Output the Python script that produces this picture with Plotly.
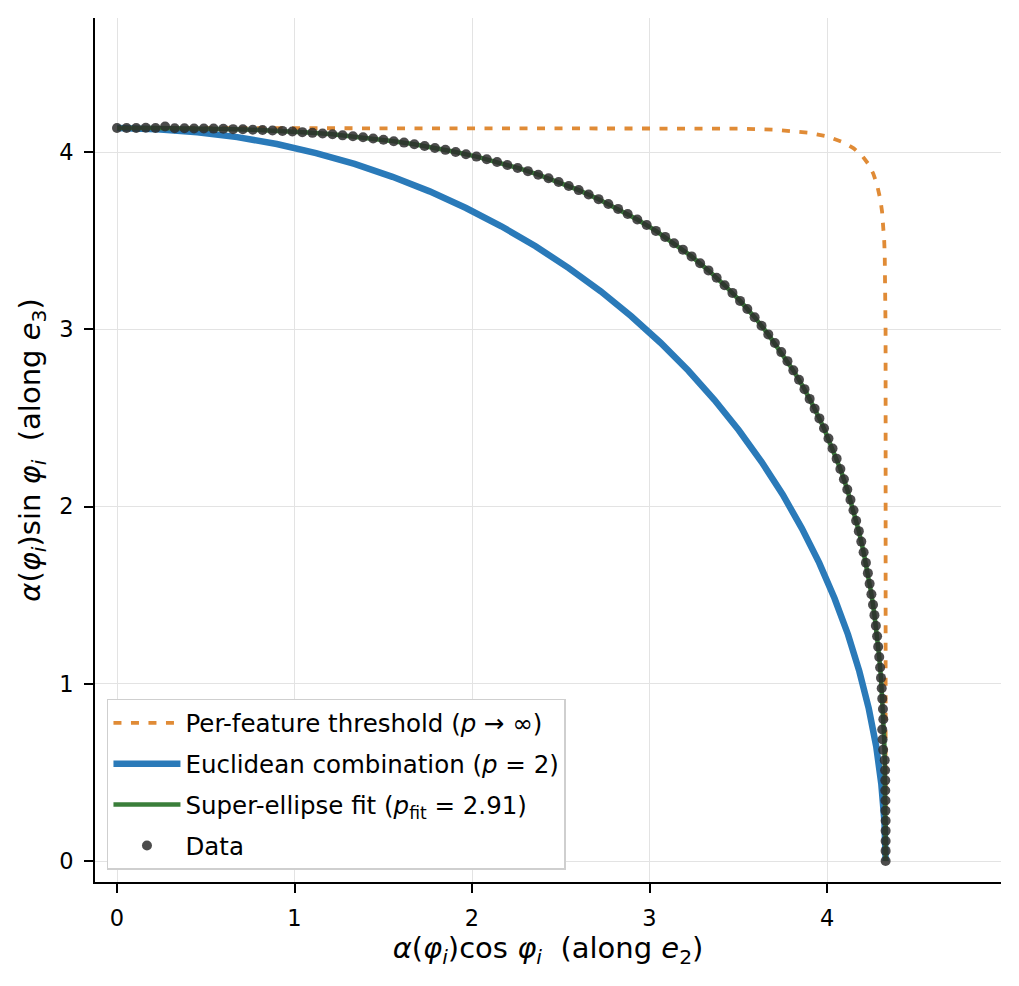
import plotly.graph_objects as go

# measured points, alpha(phi_i) projected on e2 / e3
data_x = [4.330, 4.330, 4.330, 4.330, 4.330, 4.329, 4.329, 4.328, 4.328, 4.327,
          4.325, 4.316, 4.313, 4.311, 4.317, 4.315, 4.311, 4.308, 4.304, 4.299,
          4.294, 4.288, 4.282, 4.275, 4.267, 4.259, 4.250, 4.240, 4.230, 4.219,
          4.206, 4.193, 4.179, 4.164, 4.149, 4.132, 4.114, 4.095, 4.075, 4.054,
          4.031, 4.008, 3.983, 3.957, 3.930, 3.902, 3.873, 3.842, 3.810, 3.777,
          3.742, 3.706, 3.669, 3.631, 3.592, 3.551, 3.510, 3.467, 3.423, 3.378,
          3.332, 3.285, 3.237, 3.188, 3.138, 3.088, 3.036, 2.984, 2.931, 2.877,
          2.823, 2.768, 2.713, 2.657, 2.601, 2.545, 2.488, 2.431, 2.373, 2.315,
          2.257, 2.199, 2.141, 2.083, 2.025, 1.966, 1.908, 1.850, 1.791, 1.733,
          1.675, 1.617, 1.559, 1.501, 1.443, 1.386, 1.329, 1.271, 1.214, 1.158,
          1.101, 1.044, 0.988, 0.932, 0.876, 0.820, 0.765, 0.709, 0.654, 0.599,
          0.544, 0.489, 0.434, 0.380, 0.325, 0.271, 0.217, 0.162, 0.108, 0.054,
          0.000]
data_y = [0.000, 0.057, 0.113, 0.170, 0.227, 0.284, 0.341, 0.398, 0.455, 0.512,
          0.569, 0.627, 0.685, 0.742, 0.800, 0.858, 0.916, 0.975, 1.033, 1.092,
          1.151, 1.209, 1.268, 1.327, 1.387, 1.446, 1.505, 1.564, 1.624, 1.683,
          1.742, 1.802, 1.861, 1.920, 1.979, 2.038, 2.096, 2.154, 2.212, 2.270,
          2.327, 2.384, 2.441, 2.497, 2.552, 2.607, 2.662, 2.715, 2.768, 2.820,
          2.871, 2.922, 2.971, 3.020, 3.068, 3.114, 3.160, 3.205, 3.248, 3.291,
          3.332, 3.372, 3.411, 3.449, 3.485, 3.521, 3.555, 3.588, 3.619, 3.650,
          3.679, 3.707, 3.734, 3.760, 3.785, 3.808, 3.831, 3.852, 3.872, 3.892,
          3.910, 3.927, 3.944, 3.959, 3.974, 3.987, 4.000, 4.012, 4.023, 4.034,
          4.044, 4.053, 4.061, 4.069, 4.076, 4.083, 4.089, 4.094, 4.100, 4.104,
          4.108, 4.112, 4.116, 4.119, 4.121, 4.124, 4.126, 4.128, 4.129, 4.131,
          4.132, 4.133, 4.133, 4.134, 4.134, 4.144, 4.135, 4.137, 4.135, 4.135,
          4.135]

# super-ellipse fit, p_fit = 2.91
fit_x = [4.330, 4.330, 4.330, 4.329, 4.328, 4.325, 4.322, 4.317, 4.311, 4.304,
         4.294, 4.282, 4.267, 4.250, 4.230, 4.206, 4.179, 4.149, 4.114, 4.075,
         4.031, 3.983, 3.930, 3.873, 3.810, 3.742, 3.669, 3.592, 3.510, 3.423,
         3.332, 3.237, 3.138, 3.036, 2.931, 2.823, 2.713, 2.601, 2.488, 2.373,
         2.257, 2.141, 2.025, 1.908, 1.791, 1.675, 1.559, 1.443, 1.329, 1.214,
         1.101, 0.988, 0.876, 0.765, 0.654, 0.544, 0.434, 0.325, 0.217, 0.108,
         0.000]
fit_y = [0.000, 0.113, 0.227, 0.341, 0.455, 0.569, 0.685, 0.800, 0.916, 1.033,
         1.151, 1.268, 1.387, 1.505, 1.624, 1.742, 1.861, 1.979, 2.096, 2.212,
         2.327, 2.441, 2.552, 2.662, 2.768, 2.871, 2.971, 3.068, 3.160, 3.248,
         3.332, 3.411, 3.485, 3.555, 3.619, 3.679, 3.734, 3.785, 3.831, 3.872,
         3.910, 3.944, 3.974, 4.000, 4.023, 4.044, 4.061, 4.076, 4.089, 4.100,
         4.108, 4.116, 4.121, 4.126, 4.129, 4.132, 4.133, 4.134, 4.135, 4.135,
         4.135]

# Euclidean combination (p = 2)
euc_x = [4.330, 4.324, 4.306, 4.277, 4.235, 4.182, 4.118, 4.042, 3.956, 3.858,
         3.750, 3.631, 3.503, 3.365, 3.218, 3.062, 2.897, 2.725, 2.545, 2.358,
         2.165, 1.966, 1.761, 1.552, 1.338, 1.121, 0.900, 0.677, 0.453, 0.227,
         0.000]
euc_y = [0.000, 0.216, 0.432, 0.647, 0.860, 1.070, 1.278, 1.482, 1.682, 1.877,
         2.068, 2.252, 2.430, 2.602, 2.767, 2.924, 3.073, 3.214, 3.345, 3.468,
         3.581, 3.684, 3.778, 3.860, 3.933, 3.994, 4.045, 4.084, 4.112, 4.129,
         4.135]

# per-feature threshold (p -> inf)
thr_x = [0.000, 2.000, 2.500, 3.000, 3.300, 3.500, 3.700, 3.800, 3.900, 4.000,
         4.050, 4.100, 4.150, 4.200, 4.230, 4.260, 4.280, 4.300, 4.310, 4.316,
         4.320, 4.322, 4.325, 4.3276, 4.3297, 4.330, 4.330]
thr_y = [4.135, 4.135, 4.135, 4.135, 4.134, 4.132, 4.126, 4.119, 4.108, 4.088,
         4.072, 4.051, 4.021, 3.976, 3.936, 3.879, 3.822, 3.734, 3.663, 3.600,
         3.542, 3.500, 3.423, 3.300, 3.000, 2.500, 0.000]

ticks = [0, 1, 2, 3, 4]

FONT = "DejaVu Sans"

fig = go.Figure()
fig.add_trace(go.Scatter(
    x=thr_x, y=thr_y, mode="lines", legendgroup="a",
    name="Per-feature threshold (<i>p</i> → ∞)",
    line=dict(color="#e08b36", width=3.8, dash="8px,9.5px"),
))
fig.add_trace(go.Scatter(
    x=euc_x, y=euc_y, mode="lines", legendgroup="b",
    name="Euclidean combination (<i>p</i> = 2)",
    line=dict(color="#2a7ab9", width=6.5),
))
fig.add_trace(go.Scatter(
    x=fit_x, y=fit_y, mode="lines", legendgroup="c",
    name="Super-ellipse fit (<i>p</i><sub>fit</sub> = 2.91)",
    line=dict(color="#3a7e3a", width=4.5),
))
fig.add_trace(go.Scatter(
    x=data_x, y=data_y, mode="markers", legendgroup="d", name="Data",
    marker=dict(color="rgba(45,45,45,0.85)", size=10, line=dict(width=0)),
))

axis_common = dict(
    showline=True, linecolor="black", linewidth=2, mirror=False,
    ticks="outside", ticklen=9, tickwidth=1.5, tickcolor="black",
    tickvals=ticks, showgrid=True, gridcolor="#e3e3e3", gridwidth=1,
    zeroline=False, tickfont=dict(family=FONT, size=22.5, color="black"),
    ticklabelstandoff=6,
)
fig.update_xaxes(
    range=[-0.124, 4.98], **axis_common,
    title=dict(text="<i>α</i>(<i>φ<sub>i</sub></i>)cos <i>φ<sub>i</sub></i>  (along <i>e</i><sub>2</sub>)",
               font=dict(family=FONT, size=29, color="black"), standoff=6),
)
fig.update_yaxes(
    range=[-0.1185, 4.756], **axis_common,
    title=dict(text="<i>α</i>(<i>φ<sub>i</sub></i>)sin <i>φ<sub>i</sub></i>  (along <i>e</i><sub>3</sub>)",
               font=dict(family=FONT, size=29, color="black"), standoff=10),
)
fig.update_layout(
    width=1019, height=986,
    margin=dict(l=95, r=18, t=18, b=104),
    paper_bgcolor="white", plot_bgcolor="white",
    font=dict(family=FONT, color="black"),
    legend=dict(
        x=0.0132, y=0.0139, xanchor="left", yanchor="bottom",
        bgcolor="white", bordercolor="#cfcfcf", borderwidth=1.5,
        font=dict(family=FONT, size=24.5, color="black"),
        itemwidth=67, traceorder="grouped", tracegroupgap=6,
    ),
)

fig.write_html("out.html", config={"displayModeBar": False},
               post_script="document.body.style.margin='0px';")
